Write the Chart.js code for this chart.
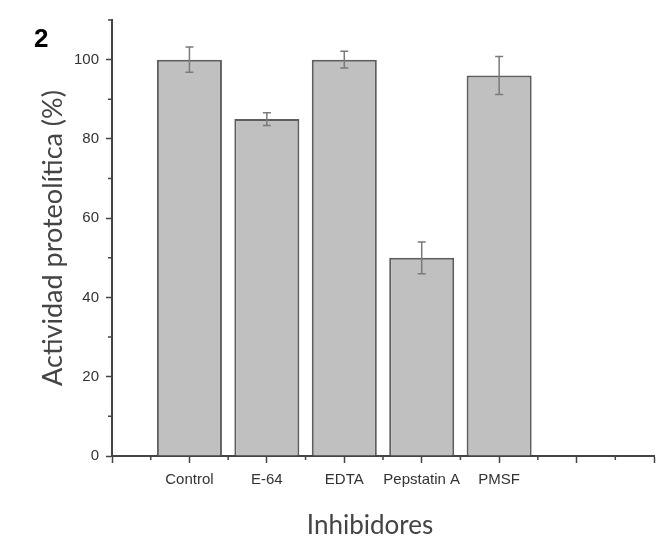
<!DOCTYPE html>
<html>
<head>
<meta charset="utf-8">
<script src="https://cdn.jsdelivr.net/npm/chart.js@4/dist/chart.umd.min.js"></script>
<style>
  html, body { margin: 0; padding: 0; background: #ffffff; }
  #wrap { position: relative; width: 670px; height: 537px; }
  #panel { position: absolute; left: 34px; top: 25px; font: bold 26px "Liberation Sans", Arial, sans-serif; line-height: 1; color: #000; }
  canvas { position: absolute; left: 0; top: 0; }
</style>
</head>
<body>
<div id="wrap">
  <canvas id="c" width="670" height="537"></canvas>
  <div id="panel">2</div>
</div>
<script>
// ---- data ----
const categories = ['Control', 'E-64', 'EDTA', 'Pepstatin A', 'PMSF'];
const positions = [1, 2, 3, 4, 5];          // x slots on the axis (axis runs 0..7)
const activity = [100, 85, 100, 50, 96];      // Actividad proteolítica (%)
const errors = [3.2, 1.6, 2.1, 4.0, 4.8];     // ± error
const yTickLabels = [0, 20, 40, 60, 80, 100];
const xTitle = 'Inhibidores';
const yTitle = 'Actividad proteolítica (%)';

const AXIS = '#444444';
const TEXT = '#333333';

const minorTicks = {
  id: 'minorTicks',
  afterDraw(chart) {
    const { ctx, scales: { x, y } } = chart;
    ctx.save();
    ctx.strokeStyle = AXIS;
    ctx.lineWidth = 1.5;
    ctx.beginPath();
    x.ticks.forEach(t => {
      if (!Number.isInteger(t.value)) {
        const px = x.getPixelForValue(t.value);
        ctx.moveTo(px, y.bottom);
        ctx.lineTo(px, y.bottom + 4);
      }
    });
    y.ticks.forEach(t => {
      if (!yTickLabels.includes(t.value)) {
        const py = y.getPixelForValue(t.value);
        ctx.moveTo(x.left - 4, py);
        ctx.lineTo(x.left, py);
      }
    });
    ctx.stroke();
    // x axis title (slightly left of the axis centre, as in the reference)
    ctx.fillStyle = '#444444';
    ctx.font = '26px Lato, sans-serif';
    ctx.textAlign = 'center';
    ctx.textBaseline = 'middle';
    ctx.fillText(xTitle, (x.left + x.right) / 2 - 13, 526);
    ctx.restore();
  }
};

const errorBars = {
  id: 'errorBars',
  afterDatasetsDraw(chart) {
    const { ctx, scales: { y } } = chart;
    const meta = chart.getDatasetMeta(0);
    ctx.save();
    ctx.strokeStyle = '#7a7a7a';
    ctx.lineWidth = 1.5;
    meta.data.forEach((bar, i) => {
      const v = activity[i], e = errors[i];
      const top = y.getPixelForValue(v + e);
      const bot = y.getPixelForValue(v - e);
      const cx = bar.x;
      ctx.beginPath();
      ctx.moveTo(cx, top); ctx.lineTo(cx, bot);
      ctx.moveTo(cx - 4, top); ctx.lineTo(cx + 4, top);
      ctx.moveTo(cx - 4, bot); ctx.lineTo(cx + 4, bot);
      ctx.stroke();
    });
    ctx.restore();
  }
};

new Chart(document.getElementById('c'), {
  type: 'bar',
  data: {
    datasets: [{
      data: positions.map((p, i) => ({ x: p, y: activity[i] })),
      backgroundColor: '#c0c0c0',
      borderColor: '#5e5e5e',
      borderWidth: 2,
      categoryPercentage: 1,
      barPercentage: 1.68
    }]
  },
  options: {
    responsive: false,
    animation: false,
    layout: { padding: { top: 20, right: 16, left: 0, bottom: 0 } },
    plugins: { legend: { display: false }, tooltip: { enabled: false } },
    scales: {
      x: {
        type: 'linear',
        min: 0, max: 7,
        offset: false,
        afterFit(s) { s.height = 81; },
        border: { display: true, color: AXIS, width: 2 },
        grid: {
          offset: false,
          drawOnChartArea: false,
          tickLength: 7,
          tickWidth: 1.5,
          tickColor: c => Number.isInteger(c.tick.value) ? AXIS : 'rgba(0,0,0,0)'
        },
        ticks: {
          stepSize: 0.5,
          autoSkip: false,
          maxRotation: 0,
          padding: 8,
          color: TEXT,
          font: { family: '"Liberation Sans", Arial, sans-serif', size: 15 },
          callback: v => {
            const i = positions.indexOf(v);
            return i >= 0 ? categories[i] : '';
          }
        },
        title: { display: false }
      },
      y: {
        min: 0, max: 110,
        afterFit(s) { s.width = 112; },
        border: { display: true, color: AXIS, width: 2 },
        grid: {
          drawOnChartArea: false,
          tickLength: 6,
          tickWidth: 1.5,
          tickColor: c => yTickLabels.includes(c.tick.value) ? AXIS : 'rgba(0,0,0,0)'
        },
        ticks: {
          stepSize: 10,
          padding: 7,
          color: TEXT,
          font: { family: '"Liberation Sans", Arial, sans-serif', size: 15 },
          callback: v => yTickLabels.includes(v) ? String(v) : ''
        },
        title: {
          display: true,
          text: yTitle,
          color: '#444444',
          font: { family: 'Lato, sans-serif', size: 27 },
          padding: { top: 37, bottom: 0 }
        }
      }
    }
  },
  plugins: [errorBars, minorTicks]
});
</script>
</body>
</html>
